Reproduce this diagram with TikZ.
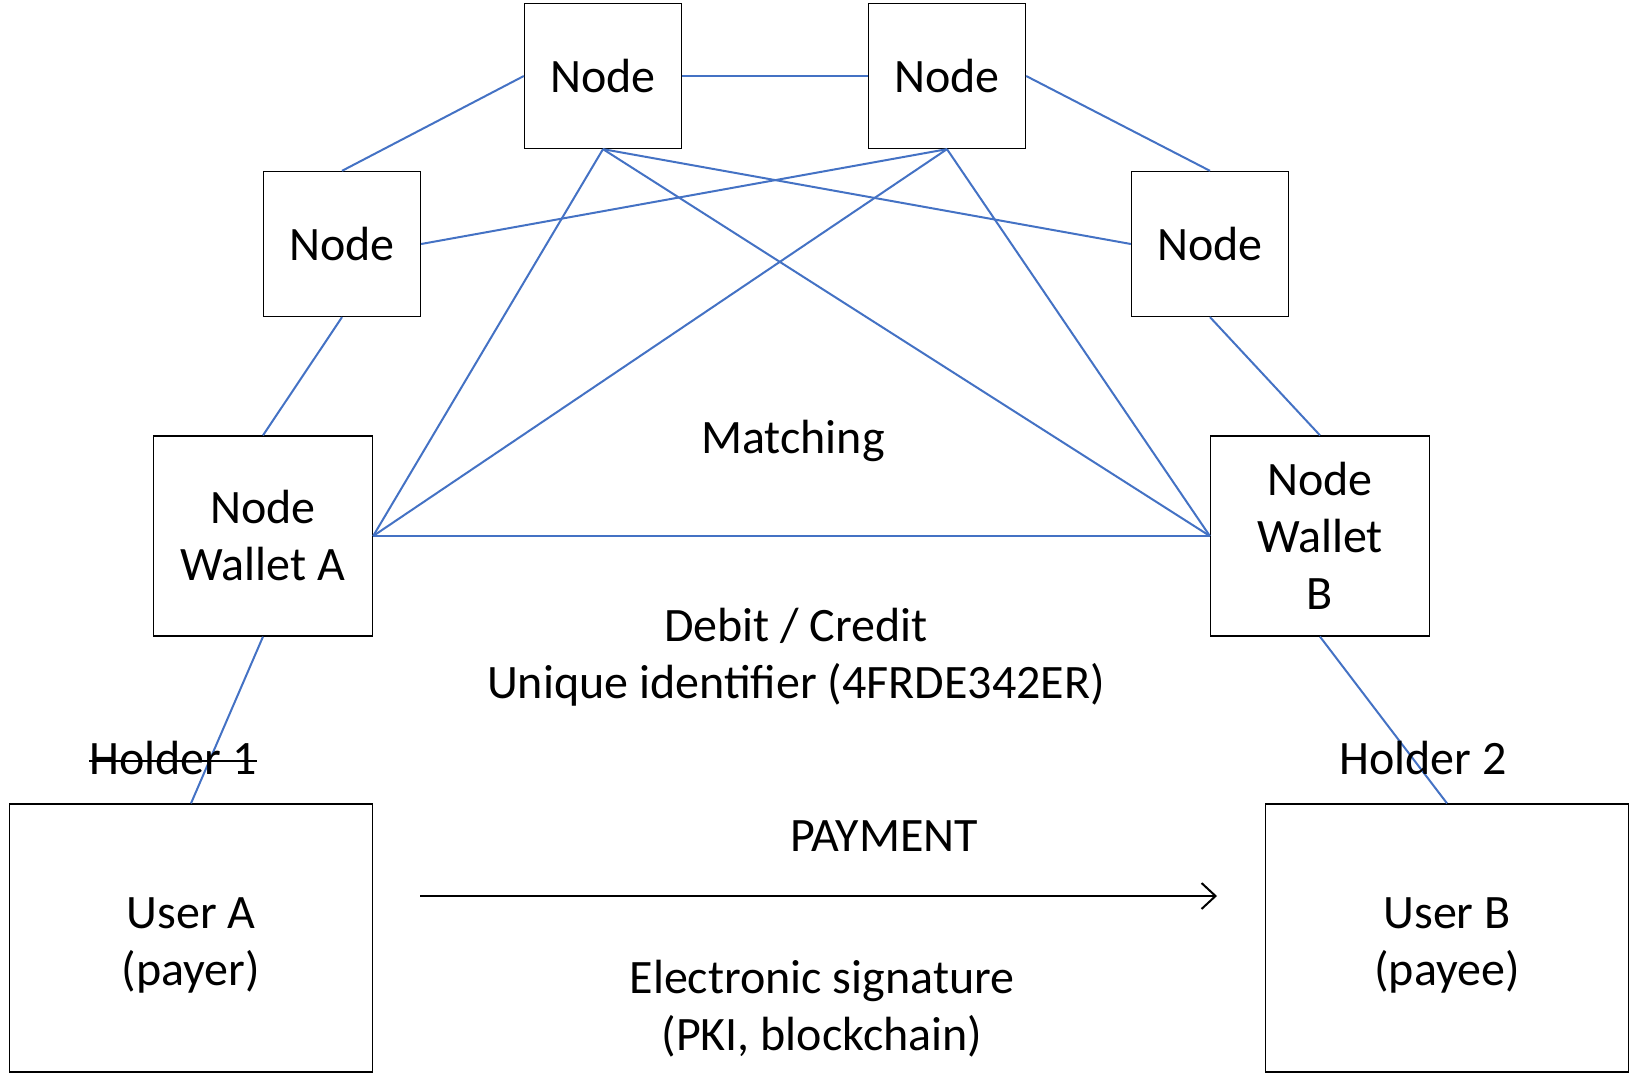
\documentclass[tikz,border=0pt]{standalone}
\usepackage{fontspec}
\setmainfont{Carlito}
\usetikzlibrary{arrows.meta}
\definecolor{linkblue}{HTML}{4472C4}
\begin{document}
\begin{tikzpicture}
[x=1pt,y=-1pt,
  boxdecorate/.style={shape=rectangle,draw,line width=1.3pt,align=center,inner sep=0pt},%
  netdecorate/.style={-,draw=linkblue,line width=2pt},%
  every node/.style={font=\fontsize{48}{57}\selectfont}]
\useasboundingbox (0,0) rectangle (1631,1081);
%% nodes of the network
\foreach \nodename/\x/\y in {
  topA/603/76, topB/947/76, sideA/342/244, sideB/1210/244}
{
  \node (\nodename) at (\x,\y) [boxdecorate,minimum width=157,minimum height=145] {Node};
}
\node (walletA) at (263,536) [boxdecorate,minimum width=219,minimum height=200] {Node\\Wallet A};
\node (walletB) at (1320,536) [boxdecorate,minimum width=219,minimum height=200] {Node\\Wallet\\B};
%% users
\node (userA) at (191,938) [boxdecorate,minimum width=363,minimum height=268] {};
\node (userB) at (1447,938) [boxdecorate,minimum width=363,minimum height=268] {};
\node (userAtext) at ([yshift=-7pt]userA.center) [align=center] {User A\\(payer)};
\node (userBtext) at ([yshift=-7pt]userB.center) [align=center] {User B\\(payee)};
%% links
\path
\foreach \startnode/\endnode in {
  topA.west/sideA.north, topA.east/topB.west, topB.east/sideB.north,
  topA.south/walletA.east, topA.south/walletB.west, topA.south/sideB.west,
  topB.south/walletA.east, topB.south/walletB.west, topB.south/sideA.east,
  sideA.south/walletA.north, sideB.south/walletB.north,
  walletA.east/walletB.west,
  walletA.south/userA.north, walletB.south/userB.north} {
  (\startnode) edge[netdecorate] (\endnode)
};
%% labels
\node (matching) at (793,441) {Matching};
\node (debit) at (796,657) [align=center] {Debit / Credit\\Unique identifier (4FRDE342ER)};
\node (holderA) at (173,758) [inner sep=0pt] {Holder 1};
\node (holderB) at (1423,758) [inner sep=0pt] {Holder 2};
\node (payment) at (884,836) {PAYMENT};
\node (signature) at (822,1009) [align=center] {Electronic signature\\(PKI, blockchain)};
\draw[line width=2.2pt] ([yshift=-3pt]holderA.west) -- ([yshift=-3pt]holderA.east);
%% payment arrow
\coordinate (payStart) at (420,896);
\coordinate (payEnd) at (1217,896);
\draw[-{Straight Barb[length=14pt,width=26pt,line width=2pt]},line width=2pt] (payStart) -- (payEnd);
\end{tikzpicture}
\end{document}
